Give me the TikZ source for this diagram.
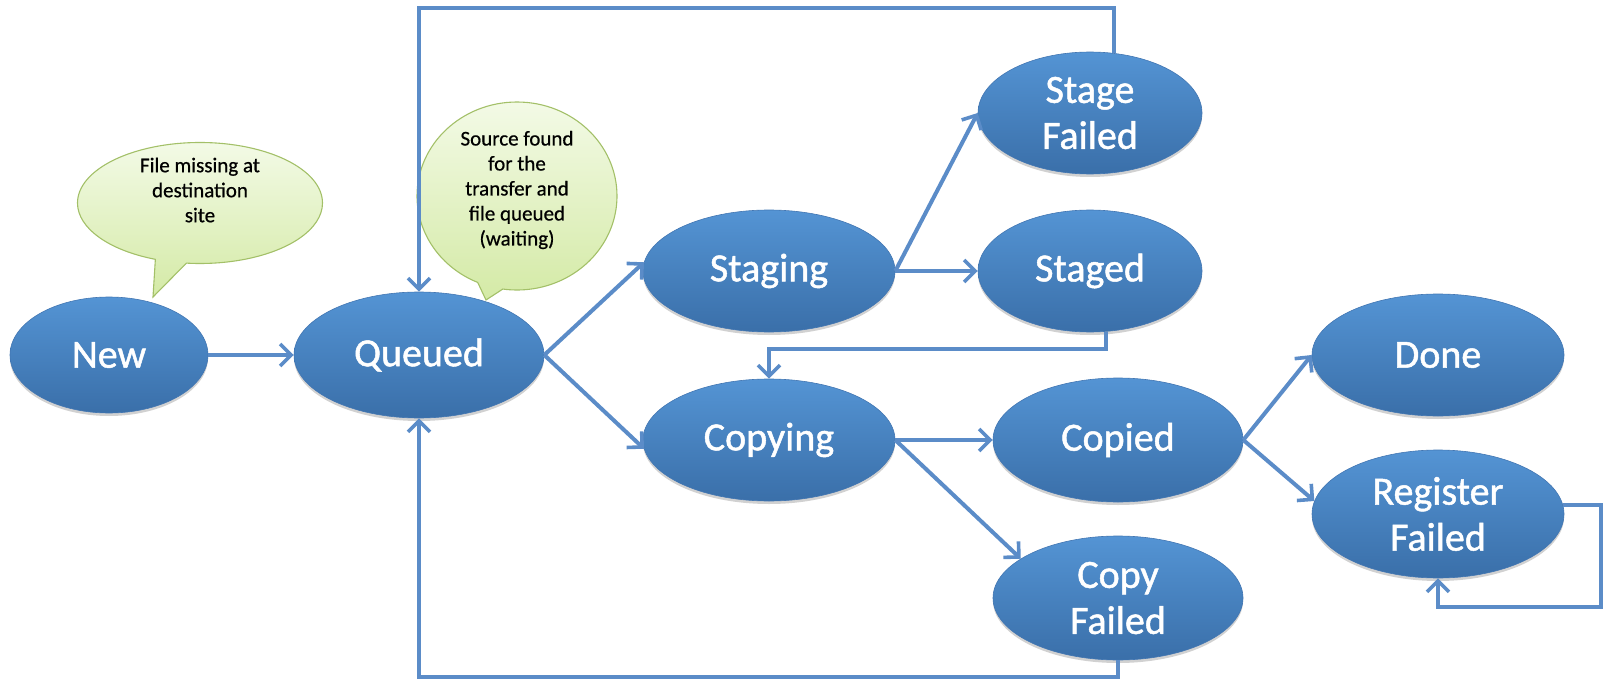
\documentclass[tikz,border=0pt]{standalone}
\usepackage{fontspec}
\setmainfont{Carlito}
\newfontfamily\statefont[FakeBold=1.2]{Carlito}
\newfontfamily\notefont[FakeBold=0.6]{Carlito}
\usetikzlibrary{arrows.meta,shapes.geometric,shapes.callouts,shadows}
\definecolor{statetop}{HTML}{5494D4}
\definecolor{statebot}{HTML}{3A6FA9}
\definecolor{stateedge}{HTML}{4276B2}
\definecolor{flow}{HTML}{5B8CC8}
\definecolor{notetop}{HTML}{F3FAE6}
\definecolor{notebot}{HTML}{D4EAA6}
\definecolor{noteedge}{HTML}{A3C068}

\begin{document}
\begin{tikzpicture}[x=1pt,y=-1pt,
  state/.style={ellipse, draw=stateedge, line width=0.6pt,
    top color=statetop, bottom color=statebot, text=white,
    font=\statefont\fontsize{40}{46}\selectfont, align=center, inner sep=0pt,
    drop shadow={shadow xshift=0pt, shadow yshift=-3pt, opacity=0.18, fill=black}},
  note/.style={ellipse callout, draw=noteedge, line width=1.1pt,
    top color=notetop, bottom color=notebot, inner sep=0pt},
  notetext/.style={align=center, font=\notefont\fontsize{21}{25}\selectfont, text=black},
  flowline/.style={draw=flow, line width=4pt,
    -{Straight Barb[length=11pt, width=22pt, line width=3.6pt]}}
]
\useasboundingbox (0,0) rectangle (1604,682);

% states
\node[state, minimum width=198, minimum height=116] (New) at (109,355) {New};
\node[state, minimum width=250, minimum height=126] (Queued) at (419,355) {Queued};
\node[state, minimum width=252, minimum height=122] (Staging) at (769,271) {Staging};
\node[state, minimum width=252, minimum height=122] (Copying) at (769,440) {Copying};
\node[state, minimum width=224, minimum height=122] (StageFailed) at (1090,113) {Stage\\Failed};
\node[state, minimum width=224, minimum height=122] (Staged) at (1090,271) {Staged};
\node[state, minimum width=250, minimum height=124] (Copied) at (1118,440) {Copied};
\node[state, minimum width=250, minimum height=124] (CopyFailed) at (1118,598) {Copy\\Failed};
\node[state, minimum width=252, minimum height=122] (Done) at (1438,355) {Done};
\node[state, minimum width=252, minimum height=128] (RegFailed) at (1438,514) {Register\\Failed};

% speech bubbles
\coordinate (tip1) at (153,297);
\coordinate (tip2) at (486,300);
\node[note, minimum width=245, minimum height=121, callout absolute pointer={(tip1)}] (note1) at (200,203) {};
\node[notetext] (note1text) at (200,190) {File missing at\\destination\\site};
\node[note, minimum width=200, minimum height=188, callout absolute pointer={(tip2)}] (note2) at (517,196) {};
\node[notetext] (note2text) at (517,190) {Source found\\for the\\transfer and\\file queued\\(waiting)};

% helper coordinates for the routed loops
\coordinate (topY) at (0,8);
\coordinate (midY) at (0,349);
\coordinate (botY) at (0,677);
\coordinate (rightX) at (1601,0);
\coordinate (loopY) at (0,607);

% transitions
\draw[flowline] (New.east) -- (Queued.west);
\draw[flowline] (Queued.east) -- (Staging.176);
\draw[flowline] (Queued.east) -- (Copying.184);
\draw[flowline] (Staging.east) -- (StageFailed.west);
\draw[flowline] (Staging.east) -- (Staged.west);
\draw[flowline] (Staged.-75) -- (Staged.-75 |- midY) -| (Copying.north);
\draw[flowline] (StageFailed.68) -- (StageFailed.68 |- topY) -| (Queued.north);
\draw[flowline] (Copying.east) -- (Copied.west);
\draw[flowline] (Copying.east) -- (CopyFailed.158);
\draw[flowline] (CopyFailed.south) -- (CopyFailed.south |- botY) -| (Queued.south);
\draw[flowline] (Copied.east) -- (Done.west);
\draw[flowline] (Copied.east) -- (RegFailed.174);
\draw[flowline] (RegFailed.4) -- (RegFailed.4 -| rightX) |- (RegFailed.south |- loopY) -- (RegFailed.south);
\end{tikzpicture}
\end{document}
